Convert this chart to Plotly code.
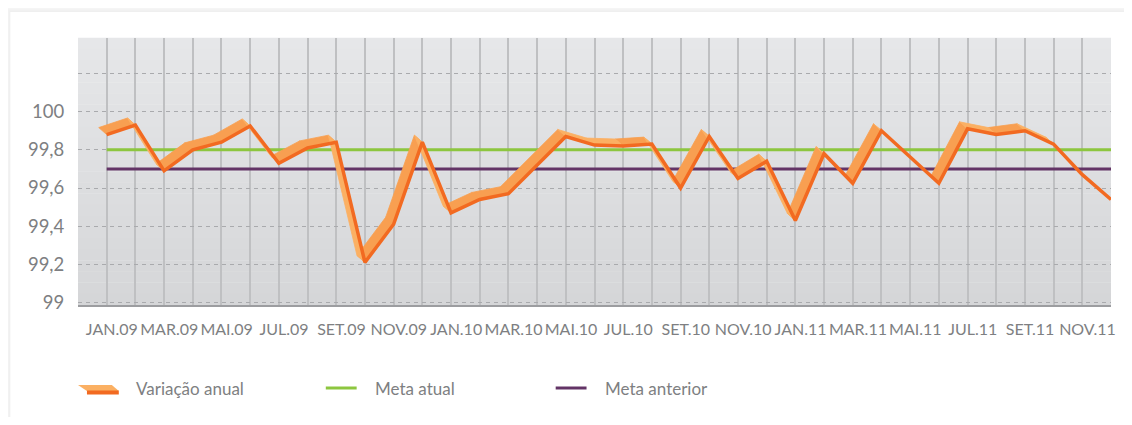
import plotly.graph_objects as go

# ---------------- data ----------------
months = [
    "JAN.09", "FEV.09", "MAR.09", "ABR.09", "MAI.09", "JUN.09",
    "JUL.09", "AGO.09", "SET.09", "OUT.09", "NOV.09", "DEZ.09",
    "JAN.10", "FEV.10", "MAR.10", "ABR.10", "MAI.10", "JUN.10",
    "JUL.10", "AGO.10", "SET.10", "OUT.10", "NOV.10", "DEZ.10",
    "JAN.11", "FEV.11", "MAR.11", "ABR.11", "MAI.11", "JUN.11",
    "JUL.11", "AGO.11", "SET.11", "OUT.11", "NOV.11", "DEZ.11",
]
variacao_anual = [
    99.88, 99.93, 99.69, 99.80, 99.84, 99.925,
    99.73, 99.81, 99.84, 99.21, 99.41, 99.84,
    99.47, 99.54, 99.57, 99.72, 99.87, 99.825,
    99.82, 99.83, 99.60, 99.87, 99.65, 99.74,
    99.43, 99.78, 99.625, 99.90, 99.76, 99.625,
    99.91, 99.88, 99.90, 99.83, 99.67, 99.54,
]
meta_atual = 99.8
meta_anterior = 99.7
y_tick_vals = [99, 99.2, 99.4, 99.6, 99.8, 100, 100.2]
y_tick_text = ["99", "99,2", "99,4", "99,6", "99,8", "100", ""]
legend_labels = ["Variação anual", "Meta atual", "Meta anterior"]

# ---------------- layout constants ----------------
OFF = 8                      # default page margin of the html body
W, H = 1116, 409
L, R, T, B = 70, 8, 30, 112
PW, PH = W - L - R, H - T - B
x_range = [-1, len(months) - 1]
y_range = [98.987, 100.386]

C_FRONT = "#F26A21"
C_FACE_UP = "#F89F51"
C_FACE_DOWN = "#FBB063"
C_GREEN = "#8DC63F"
C_PURPLE = "#633466"
C_TEXT = "#7E7F82"
FONT = "Lato"

x = list(range(len(months)))
dxu = 8 / (PW / (x_range[1] - x_range[0]))   # 3D ribbon depth in data units
dyu = 7 / (PH / (y_range[1] - y_range[0]))


def px(xp):
    """page pixel x -> paper coordinate"""
    return (xp - OFF - L) / PW


def py(yp):
    """page pixel y -> paper coordinate"""
    return (H - B - (yp - OFF)) / PH


fig = go.Figure()

# reference lines
fig.add_trace(go.Scatter(x=[x[0], x[-1]], y=[meta_atual, meta_atual], mode="lines",
                         line=dict(color=C_GREEN, width=3), hoverinfo="skip"))
fig.add_trace(go.Scatter(x=[x[0], x[-1]], y=[meta_anterior, meta_anterior], mode="lines",
                         line=dict(color=C_PURPLE, width=3), hoverinfo="skip"))

# 3D ribbon faces (derived from the data)
for up, col in ((True, C_FACE_UP), (False, C_FACE_DOWN)):
    fx, fy = [], []
    for i in range(len(x) - 1):
        v0, v1 = variacao_anual[i], variacao_anual[i + 1]
        if (v1 >= v0) != up:
            continue
        fx += [x[i], x[i + 1], x[i + 1] - dxu, x[i] - dxu, x[i], None]
        fy += [v0, v1, v1 + dyu, v0 + dyu, v0, None]
    fig.add_trace(go.Scatter(x=fx, y=fy, mode="lines", fill="toself", fillcolor=col,
                             line=dict(color=col, width=0.8), hoverinfo="skip"))

# front edge of the ribbon = actual values
fig.add_trace(go.Scatter(x=x, y=variacao_anual, mode="lines",
                         line=dict(color=C_FRONT, width=3.5), name=legend_labels[0]))

shapes = []
# card shadow + card
for i in range(1, 9):
    shapes.append(dict(type="rect", xref="paper", yref="paper", layer="below",
                       x0=px(10 - i), x1=px(1140), y0=py(440), y1=py(12 - i),
                       fillcolor="rgba(0,0,0,0.006)", line=dict(width=0)))
shapes.append(dict(type="rect", xref="paper", yref="paper", layer="below",
                   x0=px(10), x1=px(1140), y0=py(440), y1=py(12),
                   fillcolor="white", line=dict(width=0)))
# plot background gradient
NB = 24
top_c, bot_c = (230, 231, 233), (213, 214, 216)
for k in range(NB):
    t = (k + 0.5) / NB
    c = tuple(round(top_c[j] + (bot_c[j] - top_c[j]) * t) for j in range(3))
    shapes.append(dict(type="rect", xref="paper", yref="paper", layer="below",
                       x0=0, x1=1, y0=1 - (k + 1) / NB, y1=1 - k / NB + 0.001,
                       fillcolor="rgb(%d,%d,%d)" % c, line=dict(width=0)))

# legend (manual)
shapes.append(dict(type="path", xref="paper", yref="paper",
                   path="M %f %f L %f %f L %f %f L %f %f Z" % (
                       px(78), py(385), px(112), py(385), px(119), py(391), px(87), py(391)),
                   fillcolor=C_FACE_DOWN, line=dict(width=0)))
shapes.append(dict(type="rect", xref="paper", yref="paper",
                   x0=px(87), x1=px(119), y0=py(394.5), y1=py(390.5),
                   fillcolor=C_FRONT, line=dict(width=0)))
shapes.append(dict(type="line", xref="paper", yref="paper",
                   x0=px(327), x1=px(358), y0=py(388), y1=py(388),
                   line=dict(color=C_GREEN, width=3)))
shapes.append(dict(type="line", xref="paper", yref="paper",
                   x0=px(558), x1=px(589), y0=py(388), y1=py(388),
                   line=dict(color=C_PURPLE, width=3)))

annotations = []
for lab, xp in zip(legend_labels, (134, 374, 606)):
    annotations.append(dict(text=lab, xref="paper", yref="paper", x=px(xp), y=py(388),
                            xanchor="left", yanchor="middle", showarrow=False,
                            font=dict(family=FONT, size=17, color=C_TEXT)))

fig.update_layout(
    width=W, height=H,
    margin=dict(l=L, r=R, t=T, b=B, pad=0),
    paper_bgcolor="white", plot_bgcolor="rgba(0,0,0,0)",
    showlegend=False,
    shapes=shapes, annotations=annotations,
    xaxis=dict(
        range=x_range, showgrid=False, zeroline=False,
        tickmode="array", tickvals=[i + 0.18 for i in x[::2]], ticktext=months[::2],
        tickangle=0,
        ticks="outside", ticklen=9, tickcolor="rgba(0,0,0,0)",
        tickfont=dict(family=FONT, size=16, color=C_TEXT),
        showline=True, linecolor="#9C9DA0", linewidth=2,
        minor=dict(tickmode="array", tickvals=x[:-1], showgrid=True,
                   gridcolor="#BFC0C2", gridwidth=1.5, ticks=""),
    ),
    yaxis=dict(
        range=y_range, zeroline=False,
        tickmode="array", tickvals=y_tick_vals, ticktext=y_tick_text,
        showgrid=True, gridcolor="#A9AAAD", gridwidth=1, griddash="4px,4px",
        ticks="outside", ticklen=9, tickcolor="rgba(0,0,0,0)",
        tickfont=dict(family=FONT, size=18.5, color=C_TEXT),
    ),
)

fig.write_html("out.html")
